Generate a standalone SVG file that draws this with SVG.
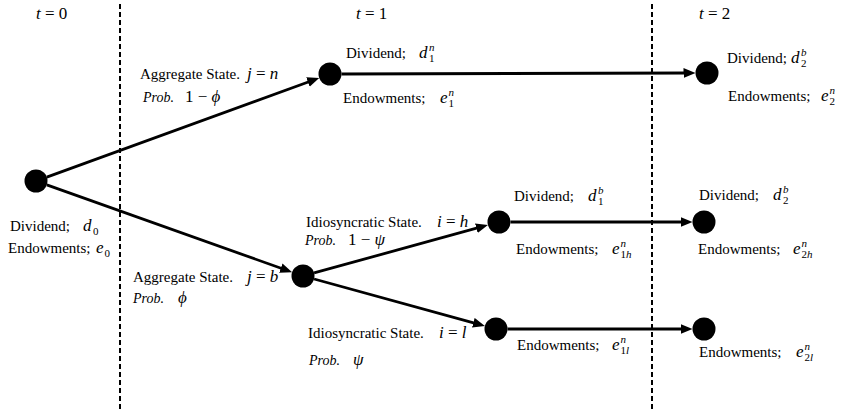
<svg xmlns="http://www.w3.org/2000/svg" width="843" height="409" viewBox="0 0 843 409" font-family="'Liberation Serif', 'DejaVu Serif', serif">
<style>
text { font-family: 'Liberation Serif', 'Times New Roman', 'DejaVu Serif', serif; fill: #000; }
.t { font-size: 15px; }
.p { font-size: 14px; font-style: italic; }
.m { font-size: 17px; }
.i { font-style: italic; }
.s { font-size: 11px; }
.node { fill: #000; }
.edge { stroke: #000; stroke-width: 2.8; fill: none; }
.dash { stroke: #000; stroke-width: 2; stroke-dasharray: 5 3; fill: none; }
</style>
<defs>
<marker id="arr" markerUnits="userSpaceOnUse" markerWidth="13" markerHeight="11" refX="4" refY="5" orient="auto">
<path d="M0,0 L12,5 L0,10 Z" fill="#000"/>
</marker>
</defs>
<rect width="843" height="409" fill="#fff"/>

<g id="time-dividers">
<line class="dash" x1="120" y1="4" x2="120" y2="409"/>
<line class="dash" x1="652" y1="4" x2="652" y2="409"/>
<text class="m" x="36" y="19"><tspan class="i">t</tspan> = 0</text>
<text class="m" x="356" y="19"><tspan class="i">t</tspan> = 1</text>
<text class="m" x="699" y="19"><tspan class="i">t</tspan> = 2</text>
</g>

<g id="connectors">
<line class="edge" x1="46.8" y1="177.1" x2="311.7" y2="80.7" marker-end="url(#arr)"/>
<line class="edge" x1="341.5" y1="74" x2="687.5" y2="73" marker-end="url(#arr)"/>
<line class="edge" x1="46.8" y1="184.9" x2="284.6" y2="269.5" marker-end="url(#arr)"/>
<line class="edge" x1="314.1" y1="272.9" x2="480.2" y2="227.2" marker-end="url(#arr)"/>
<line class="edge" x1="314.1" y1="279" x2="477.2" y2="323.8" marker-end="url(#arr)"/>
<line class="edge" x1="510.5" y1="222" x2="684.5" y2="222" marker-end="url(#arr)"/>
<line class="edge" x1="507.5" y1="329" x2="684.5" y2="329" marker-end="url(#arr)"/>
</g>

<g id="edge-labels">
<text class="t" x="140" y="79">Aggregate State.</text>
<text class="m" x="247" y="79"><tspan class="i">j</tspan> = <tspan class="i">n</tspan></text>
<text class="p" x="143" y="102">Prob.</text>
<text class="m" x="185" y="102">1 − <tspan class="i">ϕ</tspan></text>

<text class="t" x="133" y="282">Aggregate State.</text>
<text class="m" x="247" y="282"><tspan class="i">j</tspan> = <tspan class="i">b</tspan></text>
<text class="p" x="133" y="303">Prob.</text>
<text class="m i" x="178" y="303">ϕ</text>

<text class="t" x="306" y="227">Idiosyncratic State.</text>
<text class="m" x="437" y="227"><tspan class="i">i</tspan> = <tspan class="i">h</tspan></text>
<text class="p" x="305" y="245">Prob.</text>
<text class="m" x="348" y="245">1 − <tspan class="i">ψ</tspan></text>

<text class="t" x="308" y="338">Idiosyncratic State.</text>
<text class="m" x="439" y="338"><tspan class="i">i</tspan> = <tspan class="i">l</tspan></text>
<text class="p" x="309" y="365">Prob.</text>
<text class="m i" x="353" y="365">ψ</text>
</g>

<g id="node-root">
<circle class="node" cx="36" cy="181" r="11.5"/>
<text class="t" x="10" y="231">Dividend;</text>
<text class="m i" x="83" y="231">d</text>
<text class="s" x="93" y="235">0</text>
<text class="t" x="8" y="253">Endowments;</text>
<text class="m i" x="96" y="253">e</text>
<text class="s" x="104.5" y="257">0</text>
</g>

<g id="node-n">
<circle class="node" cx="330" cy="74" r="11.5"/>
<text class="t" x="346" y="58">Dividend;</text>
<text class="m i" x="419" y="58">d</text>
<text class="s" x="429" y="62">1</text>
<text class="s i" x="429" y="51">n</text>
<text class="t" x="343" y="103">Endowments;</text>
<text class="m i" x="440" y="103">e</text>
<text class="s" x="448.5" y="107">1</text>
<text class="s i" x="448.5" y="96">n</text>
</g>

<g id="node-n2">
<circle class="node" cx="707" cy="73" r="11.5"/>
<text class="t" x="727" y="63">Dividend;</text>
<text class="m i" x="791" y="63">d</text>
<text class="s" x="801" y="67">2</text>
<text class="s i" x="801" y="56">b</text>
<text class="t" x="728" y="101">Endowments;</text>
<text class="m i" x="821" y="101">e</text>
<text class="s" x="829.5" y="105">2</text>
<text class="s i" x="829.5" y="94">n</text>
</g>

<g id="node-b">
<circle class="node" cx="303" cy="276" r="11.5"/>
</g>

<g id="node-h">
<circle class="node" cx="499" cy="222" r="11.5"/>
<text class="t" x="514" y="201">Dividend;</text>
<text class="m i" x="588" y="201">d</text>
<text class="s" x="598" y="205">1</text>
<text class="s i" x="598" y="194">b</text>
<text class="t" x="516" y="254">Endowments;</text>
<text class="m i" x="612" y="254">e</text>
<text class="s" x="620.5" y="258">1<tspan class="i">h</tspan></text>
<text class="s i" x="620.5" y="247">n</text>
</g>

<g id="node-l">
<circle class="node" cx="496" cy="329" r="11.5"/>
<text class="t" x="517" y="350">Endowments;</text>
<text class="m i" x="612" y="350">e</text>
<text class="s" x="620.5" y="354">1<tspan class="i">l</tspan></text>
<text class="s i" x="620.5" y="343">n</text>
</g>

<g id="node-h2">
<circle class="node" cx="704" cy="222" r="11.5"/>
<text class="t" x="699" y="200">Dividend;</text>
<text class="m i" x="773" y="200">d</text>
<text class="s" x="783" y="204">2</text>
<text class="s i" x="783" y="193">b</text>
<text class="t" x="698" y="254">Endowments;</text>
<text class="m i" x="793" y="254">e</text>
<text class="s" x="801.5" y="258">2<tspan class="i">h</tspan></text>
<text class="s i" x="801.5" y="247">n</text>
</g>

<g id="node-l2">
<circle class="node" cx="704" cy="329" r="11.5"/>
<text class="t" x="699" y="357">Endowments;</text>
<text class="m i" x="796" y="357">e</text>
<text class="s" x="804.5" y="361">2<tspan class="i">l</tspan></text>
<text class="s i" x="804.5" y="350">n</text>
</g>
</svg>
